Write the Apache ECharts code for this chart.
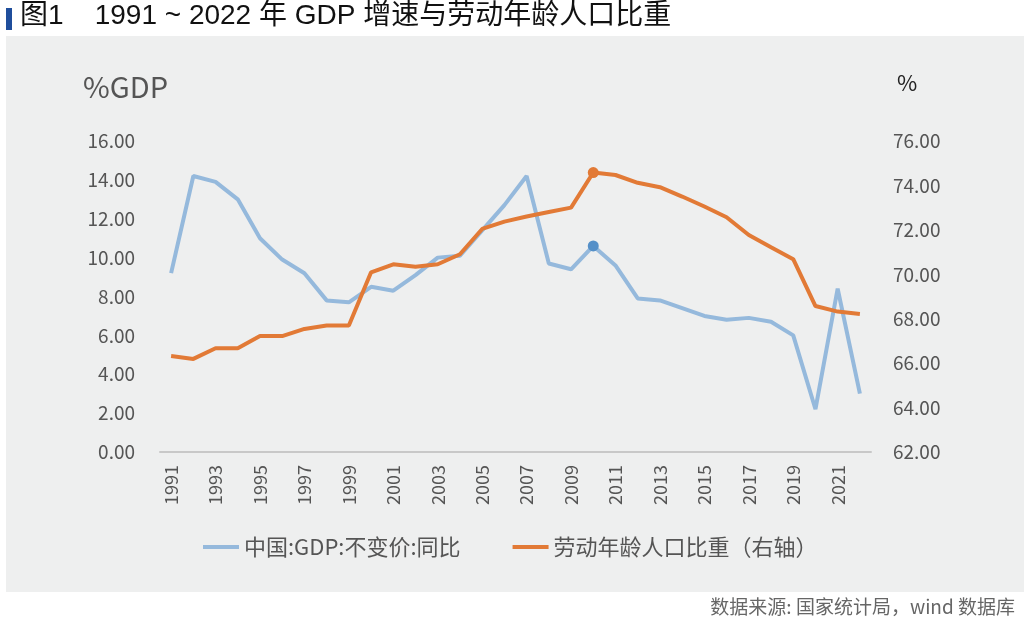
<!DOCTYPE html>
<html><head><meta charset="utf-8">
<script src="https://cdn.jsdelivr.net/npm/echarts@6/dist/echarts.min.js"></script>
<style>html,body{margin:0;padding:0;background:#fff}#c{width:1024px;height:629px}</style>
</head><body><div id="c"></div>
<script>
const years = ['1991','1992','1993','1994','1995','1996','1997','1998','1999','2000','2001','2002','2003','2004','2005','2006','2007','2008','2009','2010','2011','2012','2013','2014','2015','2016','2017','2018','2019','2020','2021','2022'];
const gdpGrowth = [9.2,14.2,13.9,13.0,11.0,9.9,9.2,7.8,7.7,8.5,8.3,9.1,10.0,10.1,11.4,12.7,14.2,9.7,9.4,10.6,9.6,7.9,7.8,7.4,7.0,6.8,6.9,6.7,6.0,2.2,8.4,3.0];
const laborShare = [66.32,66.19,66.67,66.67,67.22,67.22,67.54,67.69,67.69,70.09,70.45,70.34,70.45,70.90,72.04,72.37,72.60,72.80,73.00,74.58,74.47,74.12,73.92,73.50,73.05,72.57,71.77,71.22,70.68,68.57,68.32,68.21];
const leftTicks = {min:0, max:16, interval:2};
const rightTicks = {min:62, max:76, interval:2};
const seriesNames = ['中国:GDP:不变价:同比','劳动年龄人口比重（右轴）'];
const markIndex = 19;

const font = '"Noto Sans CJK SC","Noto Sans",sans-serif';
const titleFont = '"Liberation Sans","Noto Sans CJK SC",sans-serif';
const chart = echarts.init(document.getElementById('c'), null, {renderer:'canvas'});
chart.setOption({
  backgroundColor:'#ffffff',
  animation:false,
  textStyle:{fontFamily:font},
  graphic:[
    {type:'rect', z:-10, shape:{x:6,y:36,width:1018,height:556}, style:{fill:'#eeefef'}},
    {type:'rect', shape:{x:6,y:8,width:6,height:22}, style:{fill:'#1f4e9c'}},
    {type:'text', left:20, top:2, style:{text:'图1    1991 ~ 2022 年 GDP 增速与劳动年龄人口比重', font:'28px '+titleFont, fill:'#111'}},
    {type:'text', left:83, top:72, style:{text:'%GDP', font:'29px '+font, fill:'#555'}},
    {type:'text', left:897, top:72, style:{text:'%', font:'22px '+font, fill:'#222'}},
    {type:'text', right:9, top:597, style:{text:'数据来源: 国家统计局，wind 数据库', font:'19px '+font, fill:'#666'}}
  ],
  grid:{left:160, right:153, top:141, bottom:177},
  legend:{
    data:seriesNames, left:198, top:531, itemWidth:36, itemHeight:4, itemGap:52,
    icon:'rect',
    textStyle:{fontSize:22, color:'#555', fontFamily:font}
  },
  xAxis:{
    type:'category', data:years, boundaryGap:true,
    axisLine:{lineStyle:{color:'#c8c8c8', width:2}},
    axisTick:{interval:1, length:6, lineStyle:{color:'#c8c8c8', width:2}},
    axisLabel:{interval:1, rotate:90, margin:13, fontSize:18, color:'#555', fontFamily:font}
  },
  yAxis:[
    {type:'value', min:leftTicks.min, max:leftTicks.max, interval:leftTicks.interval, position:'left',
     splitLine:{show:false}, axisLine:{show:false}, axisTick:{show:false},
     axisLabel:{margin:25, fontSize:19, color:'#555', fontFamily:font, formatter:v=>v.toFixed(2)}},
    {type:'value', min:rightTicks.min, max:rightTicks.max, interval:rightTicks.interval, position:'right',
     splitLine:{show:false}, axisLine:{show:false}, axisTick:{show:false},
     axisLabel:{margin:22, fontSize:19, color:'#555', fontFamily:font, formatter:v=>v.toFixed(2)}}
  ],
  series:[
    {name:seriesNames[0], type:'line', data:gdpGrowth.map((v,i)=> i===markIndex ? {value:v, symbol:'circle', symbolSize:11, itemStyle:{color:'#5590c8'}} : v),
     yAxisIndex:0, symbol:'none', showSymbol:true, lineStyle:{color:'#95b9dc', width:4}, itemStyle:{color:'#95b9dc'}, z:2},
    {name:seriesNames[1], type:'line', data:laborShare.map((v,i)=> i===markIndex ? {value:v, symbol:'circle', symbolSize:11, itemStyle:{color:'#e27a36'}} : v),
     yAxisIndex:1, symbol:'none', showSymbol:true, lineStyle:{color:'#e27a36', width:4}, itemStyle:{color:'#e27a36'}, z:3}
  ]
});
</script></body></html>
